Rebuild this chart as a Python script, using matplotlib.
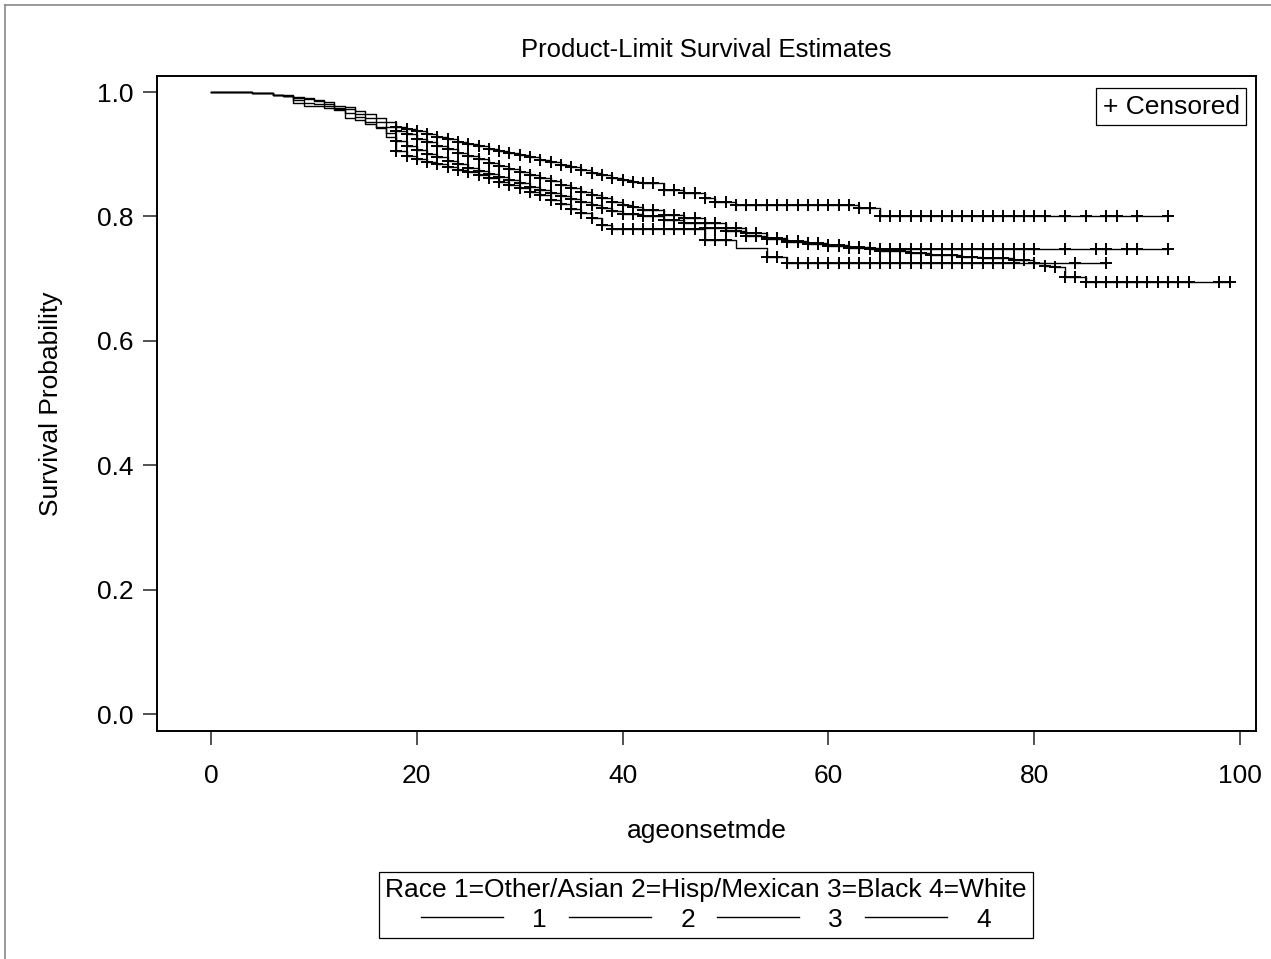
import numpy as np
import matplotlib
matplotlib.use("Agg")
import matplotlib.pyplot as plt
from matplotlib.lines import Line2D

plt.rcParams['font.family'] = ['Liberation Sans', 'DejaVu Sans']

# --- data: step times (age) and survival after each step
race1_t = [0, 4, 5, 6, 7, 8, 9, 10, 11, 12, 13, 14, 15, 16, 17, 18, 19, 20, 21, 22, 23, 24,
           25, 26, 27, 28, 29, 30, 31, 32, 33, 34, 35, 36, 37, 38, 39, 48, 51, 54, 56, 87]
race1_s = [1.0, 0.999, 0.998, 0.996, 0.993, 0.983, 0.978, 0.977, 0.974, 0.971, 0.958, 0.955,
           0.949, 0.942, 0.928, 0.905, 0.897, 0.892, 0.888, 0.884, 0.879, 0.875, 0.871, 0.866,
           0.861, 0.856, 0.851, 0.846, 0.840, 0.834, 0.827, 0.820, 0.812, 0.805, 0.798, 0.787,
           0.780, 0.762, 0.750, 0.735, 0.725, 0.725]
cens1 = list(range(18, 51)) + list(range(54, 79)) + [84, 87]

race2_t = [0, 4, 5, 6, 7, 8, 9, 10, 11, 12, 13, 14, 15, 16, 17, 18, 19, 20, 21, 22, 23, 24,
           25, 26, 27, 28, 29, 30, 31, 32, 33, 34, 35, 36, 37, 38, 39, 40, 41, 42, 44, 46,
           48, 50, 52, 54, 56, 58, 60, 62, 64, 93]
race2_s = [1.0, 0.999, 0.998, 0.996, 0.995, 0.991, 0.989, 0.985, 0.981, 0.975, 0.972, 0.965,
           0.958, 0.952, 0.944, 0.938, 0.932, 0.925, 0.919, 0.913, 0.908, 0.902, 0.897, 0.892,
           0.886, 0.881, 0.876, 0.871, 0.866, 0.862, 0.857, 0.851, 0.846, 0.840, 0.835, 0.829,
           0.824, 0.819, 0.815, 0.810, 0.803, 0.797, 0.789, 0.781, 0.773, 0.766, 0.761, 0.757,
           0.754, 0.751, 0.748, 0.748]
cens2 = list(range(18, 81)) + [83, 86, 87, 89, 90, 93]

race3_t = [0, 4, 5, 6, 7, 8, 9, 10, 11, 12, 13, 14, 15, 16, 17, 18, 19, 20, 21, 22, 23, 24,
           25, 26, 27, 28, 29, 30, 31, 32, 33, 34, 35, 36, 37, 38, 39, 40, 41, 42, 44, 46,
           48, 49, 51, 63, 65, 93]
race3_s = [1.0, 0.999, 0.998, 0.996, 0.994, 0.9925, 0.991, 0.987, 0.984, 0.978, 0.976, 0.969,
           0.964, 0.959, 0.952, 0.944, 0.941, 0.937, 0.932, 0.928, 0.924, 0.920, 0.916, 0.913,
           0.909, 0.906, 0.902, 0.899, 0.895, 0.891, 0.887, 0.883, 0.879, 0.874, 0.870, 0.866,
           0.862, 0.859, 0.856, 0.853, 0.843, 0.838, 0.830, 0.823, 0.818, 0.813, 0.801, 0.801]
cens3 = list(range(18, 82)) + [83, 85, 87, 88, 90, 93]

race4_t = [0, 4, 5, 6, 7, 8, 9, 10, 11, 12, 13, 14, 15, 16, 17, 18, 19, 20, 21, 22, 23, 24,
           25, 26, 27, 28, 29, 30, 31, 32, 33, 34, 35, 36, 37, 38, 39, 40, 42, 44, 46, 48,
           50, 52, 54, 56, 58, 60, 62, 65, 68, 70, 73, 75, 78, 80, 81, 82, 83, 85, 99]
race4_s = [1.0, 0.999, 0.998, 0.996, 0.994, 0.987, 0.983, 0.980, 0.977, 0.973, 0.966, 0.960,
           0.952, 0.944, 0.934, 0.922, 0.914, 0.907, 0.901, 0.895, 0.889, 0.884, 0.878, 0.873,
           0.868, 0.863, 0.858, 0.853, 0.848, 0.843, 0.838, 0.833, 0.828, 0.823, 0.818, 0.813,
           0.808, 0.804, 0.800, 0.795, 0.789, 0.782, 0.776, 0.769, 0.764, 0.759, 0.755, 0.752,
           0.749, 0.745, 0.741, 0.738, 0.735, 0.733, 0.730, 0.725, 0.721, 0.718, 0.702, 0.695,
           0.695]
cens4 = list(range(18, 96)) + [98, 99]

races = ['1', '2', '3', '4']
curves = [(race1_t, race1_s, cens1), (race2_t, race2_s, cens2),
          (race3_t, race3_s, cens3), (race4_t, race4_s, cens4)]

FS = 19

fig = plt.figure(figsize=(12.71, 9.59), dpi=100)
ax = fig.add_axes([0.1235, 0.2377, 0.8647, 0.683])

for t, s, c in curves:
    t = np.array(t, float)
    s = np.array(s, float)
    ax.step(t, s, where='post', color='black', lw=1.0)
    idx = np.searchsorted(t, np.array(c, float), side='right') - 1
    ax.plot(c, s[idx], ls='none', marker='+', ms=9, mew=1.4, color='black')

ax.set_xlim(-5.25, 101.55)
ax.set_ylim(-0.0273, 1.0257)
ax.set_xticks([0, 20, 40, 60, 80, 100])
ax.set_yticks([0.0, 0.2, 0.4, 0.6, 0.8, 1.0])
ax.set_yticklabels(['0.0', '0.2', '0.4', '0.6', '0.8', '1.0'])
ax.tick_params(direction='out', length=10, width=1.2, labelsize=FS, color='#333333')
ax.tick_params(axis='x', pad=14)
ax.tick_params(axis='y', pad=7)
for sp in ax.spines.values():
    sp.set_linewidth(1.4)

ax.set_title('Product-Limit Survival Estimates', fontsize=18.5, pad=14)
ax.set_xlabel('ageonsetmde', fontsize=FS, labelpad=22)
ax.set_ylabel('Survival Probability', fontsize=FS, labelpad=24)

leg1 = ax.legend([Line2D([], [], ls='none')], ['+ Censored'], loc='upper right',
                 fontsize=FS, handlelength=0, handletextpad=0, borderpad=0.25,
                 borderaxespad=0, fancybox=False, edgecolor='black', framealpha=1,
                 bbox_to_anchor=(0.991, 0.9817))
leg1.get_frame().set_linewidth(0.9)

handles = [Line2D([], [], color='black', lw=1.0) for _ in races]
leg2 = fig.legend(handles, races, loc='center', ncol=4, fontsize=FS,
                  title='Race 1=Other/Asian 2=Hisp/Mexican 3=Black 4=White',
                  title_fontsize=FS, handlelength=3.1, handletextpad=1.1,
                  columnspacing=0.85, borderpad=0.25, labelspacing=0.2,
                  fancybox=False, edgecolor='black', framealpha=1,
                  bbox_to_anchor=(0.5555, 0.0563))
leg2.get_frame().set_linewidth(0.9)

# outer frame edges (left and top only visible in the source)
fig.add_artist(Line2D([0.004, 0.004], [0, 0.995], transform=fig.transFigure,
                      color='#888888', lw=1.2))
fig.add_artist(Line2D([0.004, 1], [0.995, 0.995], transform=fig.transFigure,
                      color='#888888', lw=1.2))

fig.savefig('out.png', dpi=100)
